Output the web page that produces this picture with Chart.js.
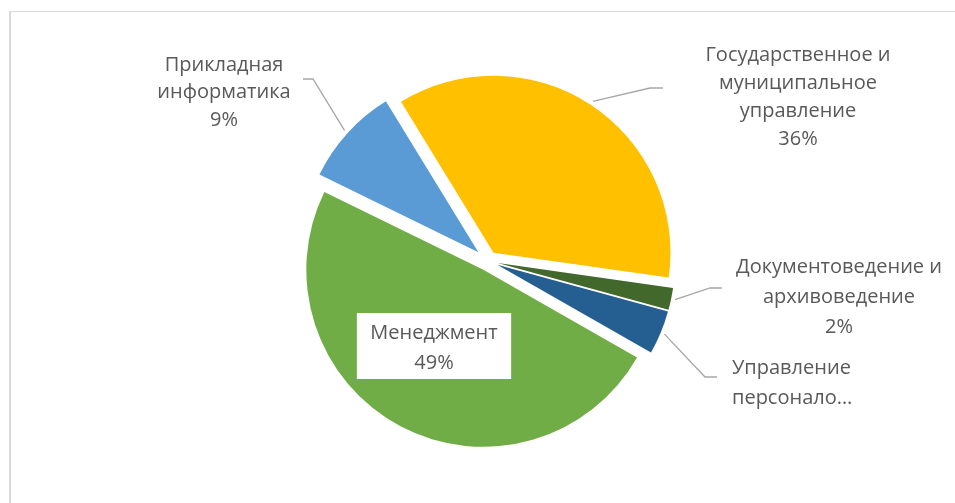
<!DOCTYPE html>
<html lang="ru">
<head>
<meta charset="utf-8">
<title>Направления подготовки</title>
<script src="https://cdn.jsdelivr.net/npm/chart.js@4.4.1/dist/chart.umd.min.js"></script>
<style>
  html, body { margin: 0; padding: 0; background: #fff; }
  #wrap { position: relative; width: 955px; height: 503px; }
</style>
</head>
<body>
<div id="wrap"><canvas id="myChart"></canvas></div>
<script>
//Chart data
const labels = ['Государственное и муниципальное управление', 'Документоведение и архивоведение', 'Управление персоналом', 'Менеджмент', 'Прикладная информатика'];
const values = [36, 2, 4, 49, 9];
const colors = ['#FFC000', '#43682B', '#255E91', '#70AD47', '#5B9BD5'];
// label text as it is wrapped on the chart (percent is added from values)
const labelText = [
   ['Государственное и', 'муниципальное', 'управление'],
   ['Документоведение и', 'архивоведение'],
   ['Управление', 'персонало…'],
   ['Менеджмент'],
   ['Прикладная', 'информатика']
];
const showPercent = [true, true, false, true, true];

//Label placement (canvas px) and leader line bends
const labelPos = [
   { x: 798, y: 55, lh: 28, align: 'center', leader: [[650, 88], [663, 88]] },
   { x: 839, y: 267, lh: 30, align: 'center', leader: [[710, 288], [722, 288]] },
   { x: 732, y: 368, lh: 30, align: 'left', leader: [[705, 377], [717, 377]] },
   { x: 434, y: 333, lh: 30, align: 'center', box: true },
   { x: 224, y: 65, lh: 27.5, align: 'center', leader: [[313, 79], [303, 79]] }
];

// how far each slice is pulled out of the pie, px
const explode = [10, 10, 10, 10, 13];
const FONT = '20px "Open Sans"';
const TEXT_COLOR = '#595959';

//Exploded slices: shift each arc along its middle angle
const Arc = Chart.registry.getElement('arc');
const arcDraw = Arc.prototype.draw;
Arc.prototype.draw = function(ctx) {
   const mid = (this.startAngle + this.endAngle) / 2;
   const d = this.$explode || 0;
   ctx.save();
   ctx.translate(Math.cos(mid) * d, Math.sin(mid) * d);
   arcDraw.call(this, ctx);
   ctx.restore();
};

const explodePlugin = {
   id: 'explode',
   beforeDatasetsDraw(chart) {
      chart.getDatasetMeta(0).data.forEach((arc, i) => { arc.$explode = explode[i]; });
   }
};

//Chart border (left and top edges are visible)
const frame = {
   id: 'frame',
   beforeDraw(chart) {
      const {ctx} = chart;
      ctx.save();
      ctx.fillStyle = '#d9d9d9';
      ctx.fillRect(9, 11, chart.width - 9, 1);
      ctx.fillRect(9, 11, 2, chart.height - 11);
      ctx.restore();
   }
};

//Data labels with leader lines
const sliceLabels = {
   id: 'sliceLabels',
   afterDatasetsDraw(chart) {
      const {ctx} = chart;
      const arcs = chart.getDatasetMeta(0).data;
      const total = values.reduce((a, b) => a + b, 0);
      ctx.save();
      ctx.font = FONT;
      arcs.forEach((arc, i) => {
         const pos = labelPos[i];
         const lines = labelText[i].slice();
         if (showPercent[i]) lines.push(Math.round(values[i] / total * 100) + '%');

         if (pos.leader) {
            const mid = (arc.startAngle + arc.endAngle) / 2;
            const r = arc.outerRadius + explode[i] + 4;
            ctx.beginPath();
            ctx.moveTo(arc.x + Math.cos(mid) * r, arc.y + Math.sin(mid) * r);
            pos.leader.forEach(p => ctx.lineTo(p[0], p[1]));
            ctx.strokeStyle = '#a6a6a6';
            ctx.lineWidth = 1.3;
            ctx.stroke();
         }

         if (pos.box) {
            const w = Math.max(...lines.map(t => ctx.measureText(t).width)) + 27;
            const h = lines.length * pos.lh + 6;
            ctx.fillStyle = '#ffffff';
            ctx.fillRect(pos.x - w / 2, pos.y - pos.lh / 2 - 5, w, h);
         }

         ctx.fillStyle = TEXT_COLOR;
         ctx.textAlign = pos.align;
         ctx.textBaseline = 'middle';
         lines.forEach((t, k) => ctx.fillText(t, pos.x, pos.y + k * pos.lh));
      });
      ctx.restore();
   }
};

const ctx = document.getElementById('myChart').getContext('2d');
const myChart = new Chart(ctx, {
   type: 'pie',
   data: {
      labels,
      datasets: [{
         data: values,
         backgroundColor: colors,
         borderWidth: 0
      }]
   },
   options: {
      responsive: true,
      maintainAspectRatio: false,
      animation: false,
      rotation: -31.5,
      layout: { padding: { left: 21, right: 0, top: 84, bottom: 65 } },
      plugins: {
         legend: { display: false },
         tooltip: { enabled: false }
      }
   },
   plugins: [frame, explodePlugin, sliceLabels]
});
</script>
</body>
</html>
